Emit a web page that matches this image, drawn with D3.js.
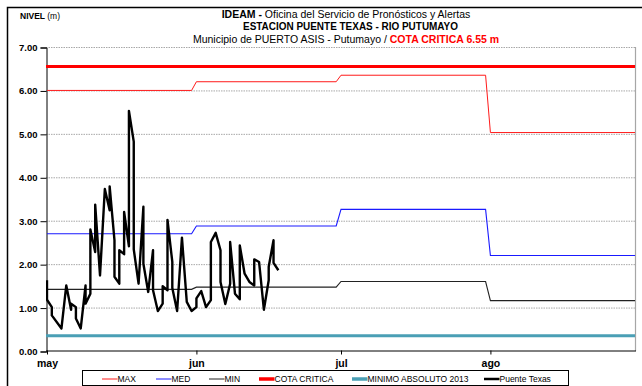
<!DOCTYPE html>
<html>
<head>
<meta charset="utf-8">
<script src="https://cdn.jsdelivr.net/npm/d3@7"></script>
<style>
  body { margin: 0; background: #fff; }
  svg { display: block; }
  text { font-family: "Liberation Sans", Arial, sans-serif; }
</style>
</head>
<body>
<svg id="chart" width="642" height="386"></svg>
<script>
// Monthly reference levels (m)
const meses = ["may", "jun", "jul", "ago"];
const inicioMes = ["2013-05-01", "2013-06-01", "2013-07-01", "2013-08-01"];
const finMes = ["2013-05-31", "2013-06-30", "2013-07-31", "2013-08-31"];
const nivelMax = [6.00, 6.20, 6.35, 5.03];
const nivelMed = [2.70, 2.88, 3.26, 2.20];
const nivelMin = [1.42, 1.47, 1.60, 1.16];
const cotaCritica = 6.55;
const minimoAbsoluto2013 = 0.35;
const yTicks = [0, 1, 2, 3, 4, 5, 6, 7];

// Observed levels at Puente Texas (two readings on some days)
const fechasPT = [
  "2013-05-01", "2013-05-01", "2013-05-02", "2013-05-02", "2013-05-04", "2013-05-05",
  "2013-05-06", "2013-05-06", "2013-05-07", "2013-05-07", "2013-05-08",
  "2013-05-09", "2013-05-09", "2013-05-10", "2013-05-10", "2013-05-11", "2013-05-11",
  "2013-05-12", "2013-05-13", "2013-05-14", "2013-05-14", "2013-05-15", "2013-05-15",
  "2013-05-16", "2013-05-16", "2013-05-17", "2013-05-17", "2013-05-18", "2013-05-18",
  "2013-05-19", "2013-05-19", "2013-05-20", "2013-05-21", "2013-05-21", "2013-05-22",
  "2013-05-23", "2013-05-23", "2013-05-24", "2013-05-25", "2013-05-25",
  "2013-05-26", "2013-05-26", "2013-05-27", "2013-05-27", "2013-05-28", "2013-05-29",
  "2013-05-30", "2013-05-31", "2013-06-01", "2013-06-01", "2013-06-02", "2013-06-03",
  "2013-06-04", "2013-06-04", "2013-06-05", "2013-06-06", "2013-06-06", "2013-06-07",
  "2013-06-08", "2013-06-08", "2013-06-09", "2013-06-10", "2013-06-10", "2013-06-11",
  "2013-06-12", "2013-06-13", "2013-06-13", "2013-06-14", "2013-06-15",
  "2013-06-16", "2013-06-16", "2013-06-17", "2013-06-17", "2013-06-18"
];
const nivelPT = [
  1.63, 1.18, 1.01, 0.82, 0.52, 1.51,
  0.95, 1.09, 1.01, 0.75, 0.52,
  1.51, 1.09, 1.32, 2.80, 2.28, 3.37,
  1.74, 3.73, 3.24, 3.79, 2.55, 1.71,
  1.55, 2.32, 2.23, 3.20, 2.41, 5.53,
  4.82, 2.34, 1.55, 3.32, 2.01, 1.36,
  2.32, 1.40, 0.92, 1.09, 1.49,
  1.40, 3.02, 2.05, 1.45, 0.92, 2.61,
  1.13, 0.92, 1.01, 1.21, 1.38, 1.01,
  1.17, 2.51, 2.72, 2.32, 1.59, 1.08,
  1.55, 2.51, 1.32, 1.19, 2.43, 1.78,
  1.59, 1.51, 2.11, 2.05, 0.95,
  1.63, 1.94, 2.55, 2.03, 1.86
];

const parse = d3.utcParse("%Y-%m-%d");
const svg = d3.select("#chart");

const plot = { left: 46, right: 635, top: 47, bottom: 351 };

const x = d3.scaleUtc()
  .domain([parse("2013-05-01"), parse("2013-08-31")])
  .range([plot.left + 1, plot.right]);
const y = d3.scaleLinear().domain([0, 7]).range([plot.bottom, plot.top]);

// Outer frame
svg.append("rect")
  .attr("x", 7.5).attr("y", 7.5).attr("width", 660).attr("height", 400)
  .attr("fill", "none").attr("stroke", "#000").attr("stroke-width", 1.5);

// Gridlines
svg.append("g").selectAll("line")
  .data(yTicks.filter(d => d > 0))
  .join("line")
  .attr("x1", plot.left).attr("x2", plot.right)
  .attr("y1", d => y(d) + 0.5).attr("y2", d => y(d) + 0.5)
  .attr("stroke", "#a8a8a8").attr("stroke-width", 1)
  .attr("stroke-dasharray", "1.5,1");

// Plot-area right border
svg.append("line")
  .attr("x1", plot.right + 0.5).attr("x2", plot.right + 0.5)
  .attr("y1", plot.top).attr("y2", plot.bottom)
  .attr("stroke", "#a6a6a6").attr("stroke-width", 1.2);

// Y axis
const yAxis = d3.axisLeft(y).tickValues(yTicks).tickFormat(d3.format(".2f"))
  .tickSize(6).tickPadding(3);
const gy = svg.append("g").attr("transform", `translate(${plot.left + 0.5},0.5)`).call(yAxis);
gy.select(".domain").attr("stroke", "#000").attr("stroke-width", 1);
gy.selectAll(".tick line").attr("stroke", "#000");
gy.selectAll("text").attr("font-size", 9.5).attr("font-weight", "bold")
  .attr("font-family", "'Liberation Sans', Arial, sans-serif").attr("fill", "#000");

// X axis
const xAxis = d3.axisBottom(x)
  .tickValues(inicioMes.map(parse))
  .tickFormat((d, i) => meses[i])
  .tickSize(4).tickPadding(5);
const gx = svg.append("g").attr("transform", `translate(0,${plot.bottom - 0.5})`).call(xAxis);
gx.select(".domain").attr("d", `M${plot.left},0.5H${plot.right + 1}`).attr("stroke", "#000");
gx.selectAll(".tick line").attr("stroke", "#000");
gx.selectAll("text").attr("font-size", 10.5).attr("font-weight", "bold")
  .attr("font-family", "'Liberation Sans', Arial, sans-serif").attr("fill", "#000");

// Monthly step series: value held from first to last day of each month
function mensual(vals) {
  const pts = [];
  vals.forEach((v, i) => {
    pts.push([parse(inicioMes[i]), v]);
    pts.push([parse(finMes[i]), v]);
  });
  return pts;
}
const linea = d3.line().x(d => x(d[0])).y(d => y(d[1]));

const clipId = "area-plot";
svg.append("clipPath").attr("id", clipId).append("rect")
  .attr("x", plot.left).attr("y", plot.top - 3)
  .attr("width", plot.right - plot.left + 1).attr("height", plot.bottom - plot.top + 3);
const gl = svg.append("g").attr("clip-path", `url(#${clipId})`);

// Minimum absolute 2013
gl.append("line")
  .attr("x1", plot.left).attr("x2", plot.right)
  .attr("y1", y(minimoAbsoluto2013)).attr("y2", y(minimoAbsoluto2013))
  .attr("stroke", "#4a9fb5").attr("stroke-width", 3);

// Critical level
gl.append("line")
  .attr("x1", plot.left).attr("x2", plot.right)
  .attr("y1", y(cotaCritica)).attr("y2", y(cotaCritica))
  .attr("stroke", "#ff0000").attr("stroke-width", 3);

gl.append("path").attr("d", linea(mensual(nivelMax)))
  .attr("fill", "none").attr("stroke", "#ff1a1a").attr("stroke-width", 1);
gl.append("path").attr("d", linea(mensual(nivelMed)))
  .attr("fill", "none").attr("stroke", "#1a1aff").attr("stroke-width", 1.1);
gl.append("path").attr("d", linea(mensual(nivelMin)))
  .attr("fill", "none").attr("stroke", "#222").attr("stroke-width", 1.1);

// Observed series
const obs = fechasPT.map((f, i) => [parse(f), nivelPT[i]]);
gl.append("path").attr("d", linea(obs))
  .attr("fill", "none").attr("stroke", "#000").attr("stroke-width", 2.4)
  .attr("stroke-linejoin", "round");

// Titles
const t = svg.append("g").attr("text-anchor", "middle").attr("fill", "#000");
const t1 = t.append("text").attr("x", 346).attr("y", 18).attr("font-size", 10.5);
t1.append("tspan").attr("font-weight", "bold").text("IDEAM - ");
t1.append("tspan").text("Oficina del Servicio de Pronósticos y Alertas");
t.append("text").attr("x", 350.5).attr("y", 30).attr("font-size", 10.5).attr("font-weight", "bold")
  .attr("textLength", 215).attr("lengthAdjust", "spacingAndGlyphs")
  .text("ESTACION PUENTE TEXAS - RIO PUTUMAYO");
const t3 = t.append("text").attr("x", 346).attr("y", 43).attr("font-size", 10.5);
t3.append("tspan").text("Municipio de PUERTO ASIS - Putumayo / ");
t3.append("tspan").attr("font-weight", "bold").attr("fill", "#ff0000").text("COTA CRITICA 6.55 m");

const tn = svg.append("text").attr("x", 20).attr("y", 19).attr("font-size", 8.5);
tn.append("tspan").attr("font-weight", "bold").text("NIVEL ");
tn.append("tspan").text("(m)");

// Legend
const leyenda = [
  { nombre: "MAX", color: "#ff1a1a", ancho: 1 },
  { nombre: "MED", color: "#1a1aff", ancho: 1 },
  { nombre: "MIN", color: "#222", ancho: 1 },
  { nombre: "COTA CRITICA", color: "#ff0000", ancho: 3.5 },
  { nombre: "MINIMO ABSOLUTO 2013", color: "#4a9fb5", ancho: 3.5 },
  { nombre: "Puente Texas", color: "#000", ancho: 2.5 }
];
const leyX = [102, 156, 209, 259, 352, 484];
svg.append("rect").attr("x", 82.5).attr("y", 370.5).attr("width", 486).attr("height", 15)
  .attr("fill", "#fff").attr("stroke", "#000").attr("stroke-width", 1);
const gleg = svg.append("g").selectAll("g").data(leyenda).join("g")
  .attr("transform", (d, i) => `translate(${leyX[i]},379)`);
gleg.append("line").attr("x1", 0).attr("x2", 15.5).attr("y1", 0).attr("y2", 0)
  .attr("stroke", d => d.color).attr("stroke-width", d => d.ancho);
gleg.append("text").attr("x", 15.5).attr("y", 3.2).attr("font-size", 8.5).attr("fill", "#000")
  .text(d => d.nombre);
</script>
</body>
</html>
